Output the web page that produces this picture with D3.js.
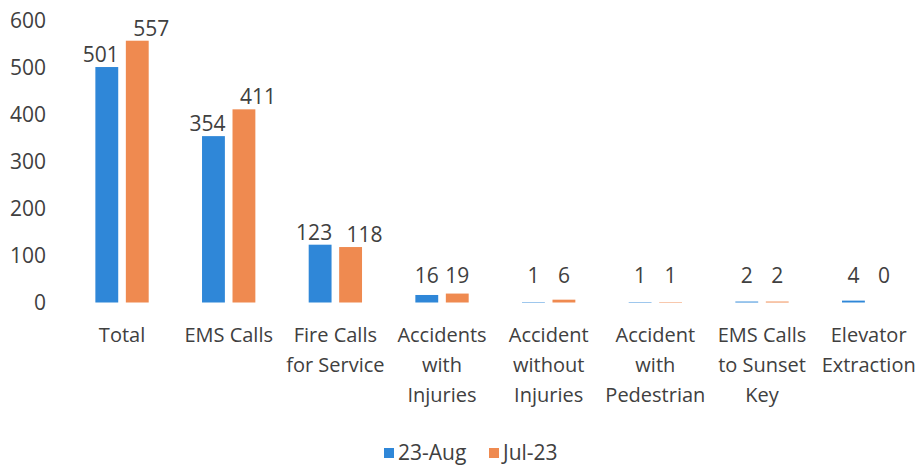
<!DOCTYPE html>
<html>
<head>
<meta charset="utf-8">
<script src="https://cdn.jsdelivr.net/npm/d3@7"></script>
<style>
  body { margin: 0; background: #fff; }
  svg text { font-family: "Open Sans", sans-serif; fill: #404040; }
</style>
</head>
<body>
<div id="chart"></div>
<script>
const categories = [
  ["Total"],
  ["EMS Calls"],
  ["Fire Calls", "for Service"],
  ["Accidents", "with", "Injuries"],
  ["Accident", "without", "Injuries"],
  ["Accident", "with", "Pedestrian"],
  ["EMS Calls", "to Sunset", "Key"],
  ["Elevator", "Extraction"]
];
const seriesNames = ["23-Aug", "Jul-23"];
const aug23 = [501, 354, 123, 16, 1, 1, 2, 4];
const jul23 = [557, 411, 118, 19, 6, 1, 2, 0];
const yTicks = [0, 100, 200, 300, 400, 500, 600];
const colors = ["#2f87d8", "#ef8a50"];

const width = 922;
const height = 468;

const data = categories.map((c, i) => ({ key: c.join(" "), lines: c, values: [aug23[i], jul23[i]] }));

const svg = d3.select("#chart")
  .append("svg")
  .attr("width", width)
  .attr("height", height);

const x0 = d3.scaleBand()
  .domain(data.map(d => d.key))
  .range([68.7, 922])
  .paddingInner(0.5)
  .paddingOuter(0.25);

const x1 = d3.scaleBand()
  .domain(seriesNames)
  .range([0, x0.bandwidth()])
  .paddingInner(0.25);

const y = d3.scaleLinear()
  .domain([0, 600])
  .range([302.5, 20.5]);

// y axis labels only
const yAxis = svg.append("g")
  .attr("transform", "translate(46,0)")
  .call(d3.axisLeft(y).tickValues(yTicks).tickSize(0).tickPadding(0));
yAxis.select(".domain").remove();
yAxis.selectAll("text")
  .style("font-size", "21px")
  .attr("font-family", null)
  .attr("fill", null);

const groups = svg.append("g")
  .selectAll("g")
  .data(data)
  .join("g")
  .attr("transform", d => `translate(${x0(d.key)},0)`);

const cells = groups.selectAll("g")
  .data(d => d.values.map((v, j) => ({ name: seriesNames[j], value: v, j })))
  .join("g");

cells.append("rect")
  .attr("x", d => x1(d.name))
  .attr("y", d => y(d.value))
  .attr("width", x1.bandwidth())
  .attr("height", d => y(0) - y(d.value))
  .attr("fill", d => colors[d.j]);

// labels of tall bars are nudged apart, like the source chart
cells.append("text")
  .attr("x", d => x1(d.name) + x1.bandwidth() / 2)
  .attr("dx", d => d.value >= 100 ? (d.j === 0 ? -6 : 14) : 0)
  .attr("y", d => Math.min(y(d.value) - 5, y(0) - 20))
  .attr("text-anchor", "middle")
  .style("font-size", "21px")
  .text(d => d.value);

// category labels
const xAxis = svg.append("g");
xAxis.selectAll("text")
  .data(data)
  .join("text")
  .attr("x", d => x0(d.key) + x0.bandwidth() / 2)
  .attr("y", 341.5)
  .attr("text-anchor", "middle")
  .style("font-size", "20px")
  .selectAll("tspan")
  .data(d => d.lines)
  .join("tspan")
  .attr("x", function () { return d3.select(this.parentNode).attr("x"); })
  .attr("dy", (d, i) => i === 0 ? 0 : 30)
  .text(d => d);

// legend
const legend = svg.append("g")
  .attr("transform", "translate(384,453)");
const legendX = d3.scaleOrdinal().domain(seriesNames).range([0, 105]);
const items = legend.selectAll("g")
  .data(seriesNames)
  .join("g")
  .attr("transform", d => `translate(${legendX(d)},0)`);
items.append("rect")
  .attr("x", 0)
  .attr("y", -5)
  .attr("width", 10)
  .attr("height", 10)
  .attr("fill", (d, i) => colors[i]);
items.append("text")
  .attr("x", 14)
  .attr("y", 0)
  .attr("dy", "0.35em")
  .style("font-size", "21px")
  .text(d => d);
</script>
</body>
</html>
